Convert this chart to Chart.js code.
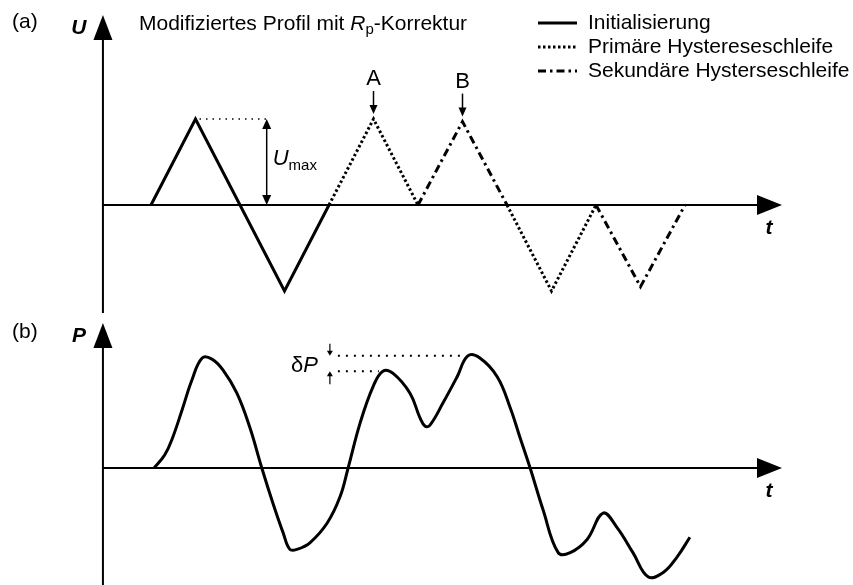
<!DOCTYPE html>
<html lang="de">
<head>
<meta charset="utf-8">
<title>Modifiziertes Profil mit Rp-Korrektur</title>
<script src="https://cdn.jsdelivr.net/npm/chart.js@4/dist/chart.umd.min.js"></script>
<style>
  html, body { margin: 0; padding: 0; background: #fff; }
  #wrap { position: relative; width: 853px; height: 585px; overflow: hidden; background: #fff; }
  canvas { position: absolute; left: 0; }
</style>
</head>
<body>
<div id="wrap">
  <canvas id="cU" width="853" height="315" style="top:0"></canvas>
  <canvas id="cP" width="853" height="270" style="top:315px"></canvas>
</div>
<script>
// ---- (a) voltage profile U(t), in units of U_max ----
const initT = [0, 1, 3, 4];
const initU = [0, 1, -1, 0];
const primT = [4, 5, 6, 7, 8, 9, 10];
const primU = [0, 1, 0, null, 0, -1, 0];
const secT  = [6, 7, 8, 9, 10, 11, 12];
const secU  = [0, 0.97, 0, null, 0, -0.95, 0];

// ---- (b) polarisation response P(t) ----
const pT = [0.07, 0.31, 0.49, 0.70, 0.92, 1.15, 1.37, 1.62, 1.93, 2.22,
            2.49, 2.74, 2.97, 3.12, 3.28, 3.57, 3.96, 4.25, 4.43, 4.70,
            4.99, 5.21, 5.44, 5.82, 6.04, 6.16, 6.27, 6.56, 6.88, 7.12,
            7.39, 7.78, 8.07, 8.29, 8.52, 8.81, 9.15, 9.42, 9.80, 10.16,
            10.47, 10.83, 11.17, 11.51, 11.82, 12.11];
const pVal = [0, 0.12, 0.28, 0.53, 0.80, 1.00, 0.99, 0.89, 0.68, 0.37,
              0, -0.32, -0.59, -0.74, -0.74, -0.68, -0.50, -0.26, 0, 0.41,
              0.74, 0.88, 0.86, 0.68, 0.46, 0.38, 0.39, 0.59, 0.83, 1.02,
              1.00, 0.83, 0.55, 0.28, 0, -0.38, -0.77, -0.77, -0.65, -0.41,
              -0.54, -0.77, -0.99, -0.95, -0.81, -0.63];

// ---- texts ----
const seriesNames = ['Initialisierung', 'Primäre Hystereseschleife', 'Sekundäre Hysterseschleife'];
const markerNames = ['A', 'B'];
const markerT = [5, 7];
const panelTags = ['(a)', '(b)'];
const axisNames = ['U', 'P', 't'];

// ---- geometry (time / value units of the drawing) ----
const X_MIN = -3.393, X_MAX = 15.775;
const AXIS_T = -1.08;      // position of the vertical axis
const ARROW_T = 14.18;     // tip of the time arrow
const U_RANGE = [-1.279, 2.384], U_AXIS = [-1.256, 2.21];
const P_RANGE = [-1.064, 1.391], P_AXIS = [-1.07, 1.318];
const UMAX_T = 2.6;        // where the U_max dimension arrow sits
const DP_LINE_T = 4.2, DP_ARROW_T = 4.02;

const FONT = '"Liberation Sans", Arial, Helvetica, sans-serif';
const INK = '#000';

function pts(xs, ys) { return xs.map((x, i) => ({ x: x, y: ys[i] })); }

function arrowHead(ctx, tx, ty, dx, dy, len, half) {
  // triangle with tip (tx,ty) pointing along unit vector (dx,dy)
  const bx = tx - dx * len, by = ty - dy * len;
  ctx.beginPath();
  ctx.moveTo(tx, ty);
  ctx.lineTo(bx - dy * half, by + dx * half);
  ctx.lineTo(bx + dy * half, by - dx * half);
  ctx.closePath();
  ctx.fill();
}

function line(ctx, x1, y1, x2, y2, w, dash) {
  ctx.save();
  ctx.lineWidth = w;
  ctx.setLineDash(dash || []);
  ctx.beginPath();
  ctx.moveTo(x1, y1);
  ctx.lineTo(x2, y2);
  ctx.stroke();
  ctx.restore();
}

// draw a sequence of text runs (for italic symbols and subscripts)
function textRuns(ctx, x, baseY, runs) {
  ctx.save();
  ctx.textBaseline = 'alphabetic';
  ctx.textAlign = 'left';
  let cx = x;
  runs.forEach(r => {
    ctx.font = r.font;
    ctx.fillText(r.text, cx, baseY + (r.dy || 0));
    cx += ctx.measureText(r.text).width;
  });
  ctx.restore();
  return cx;
}

function drawAxes(chart, axisRange, nameY, tagText, tagY) {
  const ctx = chart.ctx, xs = chart.scales.x, ys = chart.scales.y;
  const ax = xs.getPixelForValue(AXIS_T);
  const y0 = ys.getPixelForValue(0);
  const yTip = ys.getPixelForValue(axisRange[1]);
  const yBot = ys.getPixelForValue(axisRange[0]);
  const xTip = xs.getPixelForValue(ARROW_T);
  ctx.save();
  ctx.strokeStyle = INK; ctx.fillStyle = INK;
  line(ctx, ax, yBot, ax, yTip + 20, 2);
  arrowHead(ctx, ax, yTip, 0, -1, 25, 9.5);
  line(ctx, ax, y0, xTip - 20, y0, 2);
  arrowHead(ctx, xTip, y0, 1, 0, 25, 10);

  ctx.textBaseline = 'middle';
  ctx.textAlign = 'center';
  ctx.font = 'italic bold 21px ' + FONT;
  ctx.fillText(nameY, ax - 24, yTip + 13);
  ctx.fillText(axisNames[2], xTip - 13, y0 + 23);
  ctx.textAlign = 'left';
  ctx.font = '21px ' + FONT;
  ctx.fillText(tagText, 12, tagY);
  ctx.restore();
}

// ---- panel (a) ----
const uPlugin = {
  id: 'profileDecor',
  beforeDatasetsDraw(chart) {
    drawAxes(chart, U_AXIS, axisNames[0], panelTags[0], 22);
  },
  afterDatasetsDraw(chart) {
    const ctx = chart.ctx, xs = chart.scales.x, ys = chart.scales.y;
    ctx.save();
    ctx.strokeStyle = INK; ctx.fillStyle = INK;

    // title
    textRuns(ctx, 139, 30, [
      { text: 'Modifiziertes Profil mit ', font: '21px ' + FONT },
      { text: 'R', font: 'italic 21px ' + FONT },
      { text: 'p', font: '15px ' + FONT, dy: 4 },
      { text: '-Korrektur', font: '21px ' + FONT }
    ]);

    // legend
    const rows = [23, 47, 71];
    chart.data.datasets.forEach((ds, i) => {
      line(ctx, 538, rows[i], 577, rows[i], 3, ds.borderDash);
      ctx.font = '21px ' + FONT;
      ctx.textBaseline = 'middle';
      ctx.textAlign = 'left';
      ctx.fillText(ds.label, 588, rows[i]);
    });

    // U_max dimension
    const peakX = xs.getPixelForValue(initT[1]);
    const peakY = ys.getPixelForValue(initU[1]);
    const zeroY = ys.getPixelForValue(0);
    const dimX = xs.getPixelForValue(UMAX_T);
    line(ctx, peakX + 4, peakY, dimX, peakY, 1.5, [1.5, 5]);
    line(ctx, dimX, peakY + 8, dimX, zeroY - 8, 1.5);
    arrowHead(ctx, dimX, peakY, 0, -1, 10, 4.5);
    arrowHead(ctx, dimX, zeroY, 0, 1, 10, 4.5);
    const mid = (peakY + zeroY) / 2;
    textRuns(ctx, dimX + 6, mid + 3, [
      { text: 'U', font: 'italic 22px ' + FONT },
      { text: 'max', font: '15px ' + FONT, dy: 5 }
    ]);

    // A / B markers on the hysteresis peaks
    const markerU = [primU[primT.indexOf(markerT[0])], secU[secT.indexOf(markerT[1])]];
    markerNames.forEach((name, i) => {
      const mx = xs.getPixelForValue(markerT[i]);
      const my = ys.getPixelForValue(markerU[i]);
      const tip = my - 5;
      line(ctx, mx, tip - 23, mx, tip - 6, 1.5);
      arrowHead(ctx, mx, tip, 0, 1, 9, 4);
      ctx.font = '22px ' + FONT;
      ctx.textAlign = 'center';
      ctx.textBaseline = 'middle';
      ctx.fillText(name, mx, tip - 35);
    });
    ctx.restore();
  }
};

new Chart(document.getElementById('cU'), {
  type: 'line',
  data: {
    datasets: [
      { label: seriesNames[0], data: pts(initT, initU), borderColor: INK, borderWidth: 3,
        borderDash: [], pointRadius: 0, tension: 0, clip: false },
      { label: seriesNames[1], data: pts(primT, primU), borderColor: INK, borderWidth: 3,
        borderDash: [2.5, 2.5], pointRadius: 0, tension: 0, spanGaps: false, clip: false },
      { label: seriesNames[2], data: pts(secT, secU), borderColor: INK, borderWidth: 3,
        borderDash: [8, 4, 2.5, 4], pointRadius: 0, tension: 0, spanGaps: false, clip: false }
    ]
  },
  options: {
    responsive: false, animation: false, events: [],
    layout: { padding: 0 },
    scales: {
      x: { type: 'linear', min: X_MIN, max: X_MAX, display: false },
      y: { type: 'linear', min: U_RANGE[0], max: U_RANGE[1], display: false }
    },
    plugins: { legend: { display: false }, tooltip: { enabled: false }, title: { display: false } }
  },
  plugins: [uPlugin]
});

// ---- panel (b) ----
function peakIn(t0, t1) {
  let best = -Infinity, bt = 0;
  pT.forEach((t, i) => { if (t >= t0 && t <= t1 && pVal[i] > best) { best = pVal[i]; bt = t; } });
  return { t: bt, v: best };
}

const pPlugin = {
  id: 'responseDecor',
  beforeDatasetsDraw(chart) {
    drawAxes(chart, P_AXIS, axisNames[1], panelTags[1], 17);
  },
  afterDatasetsDraw(chart) {
    const ctx = chart.ctx, xs = chart.scales.x, ys = chart.scales.y;
    ctx.save();
    ctx.strokeStyle = INK; ctx.fillStyle = INK;
    const low = peakIn(4.5, 6), high = peakIn(6.5, 8);
    const lx = xs.getPixelForValue(DP_LINE_T);
    const yHigh = ys.getPixelForValue(high.v), yLow = ys.getPixelForValue(low.v);
    line(ctx, lx, yHigh, xs.getPixelForValue(high.t) - 4, yHigh, 2, [2, 6]);
    line(ctx, lx, yLow, xs.getPixelForValue(low.t) - 4, yLow, 2, [2, 6]);
    const axX = xs.getPixelForValue(DP_ARROW_T);
    line(ctx, axX, yHigh - 12, axX, yHigh - 4, 1.2);
    arrowHead(ctx, axX, yHigh, 0, 1, 5, 3);
    line(ctx, axX, yLow + 13, axX, yLow + 4, 1.2);
    arrowHead(ctx, axX, yLow, 0, -1, 5, 3);
    ctx.font = '22px ' + FONT;
    const dW = ctx.measureText('δ').width;
    ctx.font = 'italic 22px ' + FONT;
    const pW = ctx.measureText('P').width;
    textRuns(ctx, axX - 12 - dW - pW, (yHigh + yLow) / 2 + 8, [
      { text: 'δ', font: '22px ' + FONT },
      { text: 'P', font: 'italic 22px ' + FONT }
    ]);
    ctx.restore();
  }
};

new Chart(document.getElementById('cP'), {
  type: 'line',
  data: {
    datasets: [
      { label: 'P', data: pts(pT, pVal), borderColor: INK, borderWidth: 3,
        pointRadius: 0, tension: 0.4, clip: false }
    ]
  },
  options: {
    responsive: false, animation: false, events: [],
    layout: { padding: 0 },
    scales: {
      x: { type: 'linear', min: X_MIN, max: X_MAX, display: false },
      y: { type: 'linear', min: P_RANGE[0], max: P_RANGE[1], display: false }
    },
    plugins: { legend: { display: false }, tooltip: { enabled: false }, title: { display: false } }
  },
  plugins: [pPlugin]
});
</script>
</body>
</html>
